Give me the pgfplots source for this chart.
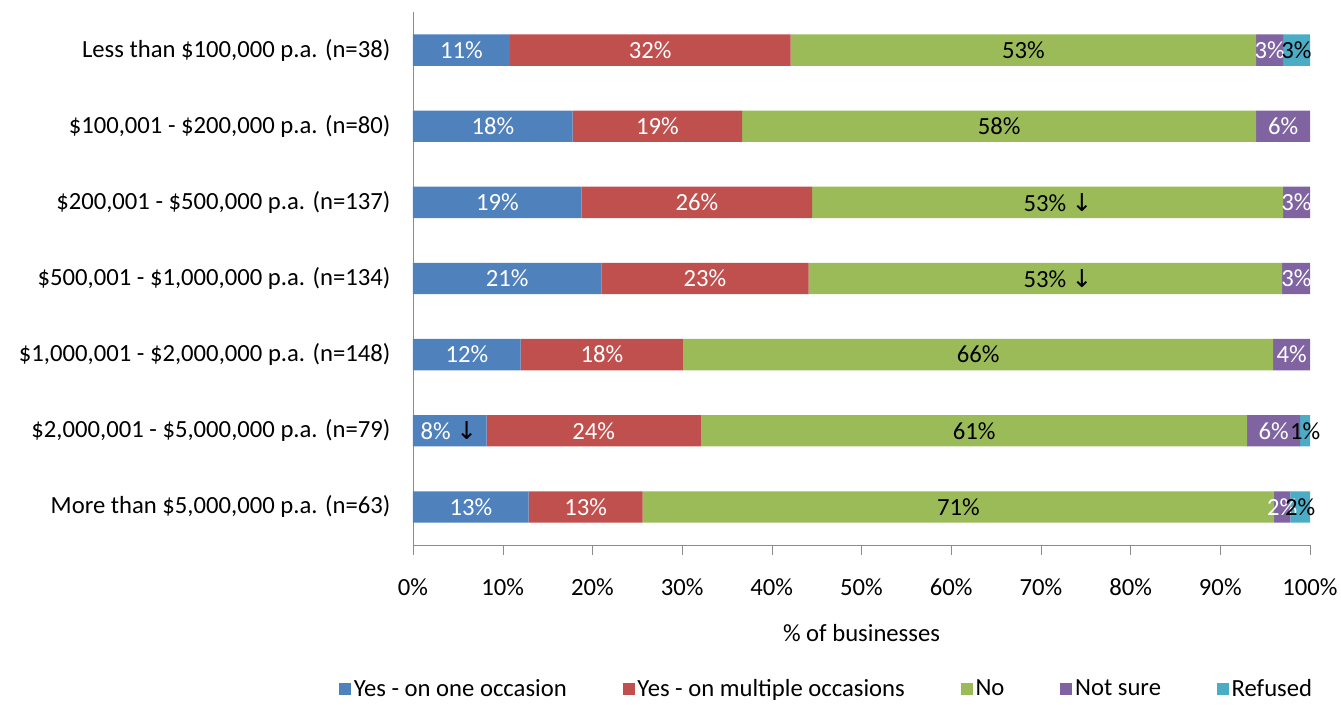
\documentclass[border=0pt]{standalone}
\usepackage{pgfplots}
\usepackage{pgfplotstable}
\pgfplotsset{compat=1.18}
\usepackage{fontspec}
\setmainfont{Carlito}
\newfontfamily\sym{DejaVu Sans}
\newcommand\arr{{\sym\char"2193}}
\definecolor{cblue}{HTML}{4F81BD}
\definecolor{cred}{HTML}{C0504D}
\definecolor{cgreen}{HTML}{9BBB59}
\definecolor{cpurple}{HTML}{8064A2}
\definecolor{ccyan}{HTML}{4BACC6}
% segment widths (percent of businesses), category index c
\pgfplotstableread[col sep=comma]{
c,blue,red,green,purple,cyan
0,10.8,31.3,51.9,3.0,3.0
1,17.8,18.9,57.3,6.0,0
2,18.8,25.7,52.5,3.0,0
3,21.0,23.1,52.8,3.2,0
4,12.0,18.1,65.8,4.1,0
5,8.2,23.9,60.9,5.9,1.1
6,12.9,12.7,70.4,1.8,2.2
}\data
% data labels on white-text segments (blue, red, purple)
\pgfplotstableread[col sep=comma]{
x,c,lab
5.4,0,11\%
26.45,0,32\%
95.5,0,3\%
8.9,1,18\%
27.25,1,19\%
97.0,1,6\%
9.4,2,19\%
31.65,2,26\%
98.5,2,3\%
10.5,3,21\%
32.55,3,23\%
98.5,3,3\%
6.0,4,12\%
21.05,4,18\%
97.95,4,4\%
4.0,5,{8\% \textcolor{black}{\arr}}
20.15,5,24\%
95.95,5,6\%
6.45,6,13\%
19.25,6,13\%
96.9,6,2\%
}\lwhite
% data labels on black-text segments (green, cyan)
\pgfplotstableread[col sep=comma]{
x,c,lab
68.05,0,53\%
98.5,0,3\%
65.35,1,58\%
71.9,2,{53\% \arr}
71.9,3,{53\% \arr}
63.0,4,66\%
62.55,5,61\%
99.45,5,1\%
60.8,6,71\%
98.9,6,2\%
}\lblack
\begin{document}
\begin{tikzpicture}[x=1pt,y=1pt,font=\fontsize{18.5}{22}\selectfont]
\useasboundingbox (-309.75,-119.25) rectangle (696,408.75);
\begin{axis}[
  at={(0,0)}, anchor=south west,
  scale only axis, width=672.75pt, height=399.75pt,
  xbar stacked, bar width=23.5pt,
  xmin=0, xmax=100, ymin=-0.5, ymax=6.5, y dir=reverse,
  axis x line*=bottom, axis y line*=left,
  axis line style={black!45, -},
  tick align=outside, major tick length=7.5pt,
  tick style={black!45},
  xtick={0,10,...,100},
  xticklabel={\pgfmathprintnumber{\tick}\%},
  /pgf/number format/assume math mode=true,
  xticklabel style={yshift=-14pt},
  ytick={0,...,6},
  yticklabels={{Less than \$100,000 p.a. (n=38)},{\$100,001 - \$200,000 p.a. (n=80)},{\$200,001 - \$500,000 p.a. (n=137)},{\$500,001 - \$1,000,000 p.a. (n=134)},{\$1,000,001 - \$2,000,000 p.a. (n=148)},{\$2,000,001 - \$5,000,000 p.a. (n=79)},{More than \$5,000,000 p.a. (n=63)}},
  major y tick style={draw=none},
  extra y ticks={-0.5,0.5,1.5,2.5,3.5,4.5,5.5,6.5},
  extra y tick labels={},
  extra y tick style={major tick style={black!45}},
  yticklabel style={anchor=east, xshift=-6pt},
  xlabel={\% of businesses},
  xlabel style={at={(axis description cs:0.5,-0.165)}, anchor=center},
  legend columns=5,
  legend style={draw=none, at={(0.4615,-0.27)}, anchor=center, inner sep=0pt,
    /tikz/every even column/.append style={column sep=40pt}},
  legend image code/.code={\draw[#1,draw=none] (0pt,-4.5pt) rectangle (9pt,4.5pt);},
]
\addplot[fill=cblue, draw=none] table[x=blue, y=c] {\data};
\addplot[fill=cred, draw=none] table[x=red, y=c] {\data};
\addplot[fill=cgreen, draw=none] table[x=green, y=c] {\data};
\addplot[fill=cpurple, draw=none] table[x=purple, y=c] {\data};
\addplot[fill=ccyan, draw=none] table[x=cyan, y=c] {\data};
\legend{Yes - on one occasion,Yes - on multiple occasions,No,Not sure,Refused}
\end{axis}
\begin{axis}[
  at={(0,0)}, anchor=south west,
  scale only axis, width=672.75pt, height=399.75pt,
  xmin=0, xmax=100, ymin=-0.5, ymax=6.5, y dir=reverse,
  hide axis, clip=false,
  point meta=explicit symbolic,
  nodes near coords,
  every node near coord/.append style={anchor=center, inner sep=0pt},
]
\addplot[draw=none, mark=none, nodes near coords style={text=white}] table[x=x, y=c, meta=lab] {\lwhite};
\addplot[draw=none, mark=none, nodes near coords style={text=black}] table[x=x, y=c, meta=lab] {\lblack};
\end{axis}
\end{tikzpicture}
\end{document}
